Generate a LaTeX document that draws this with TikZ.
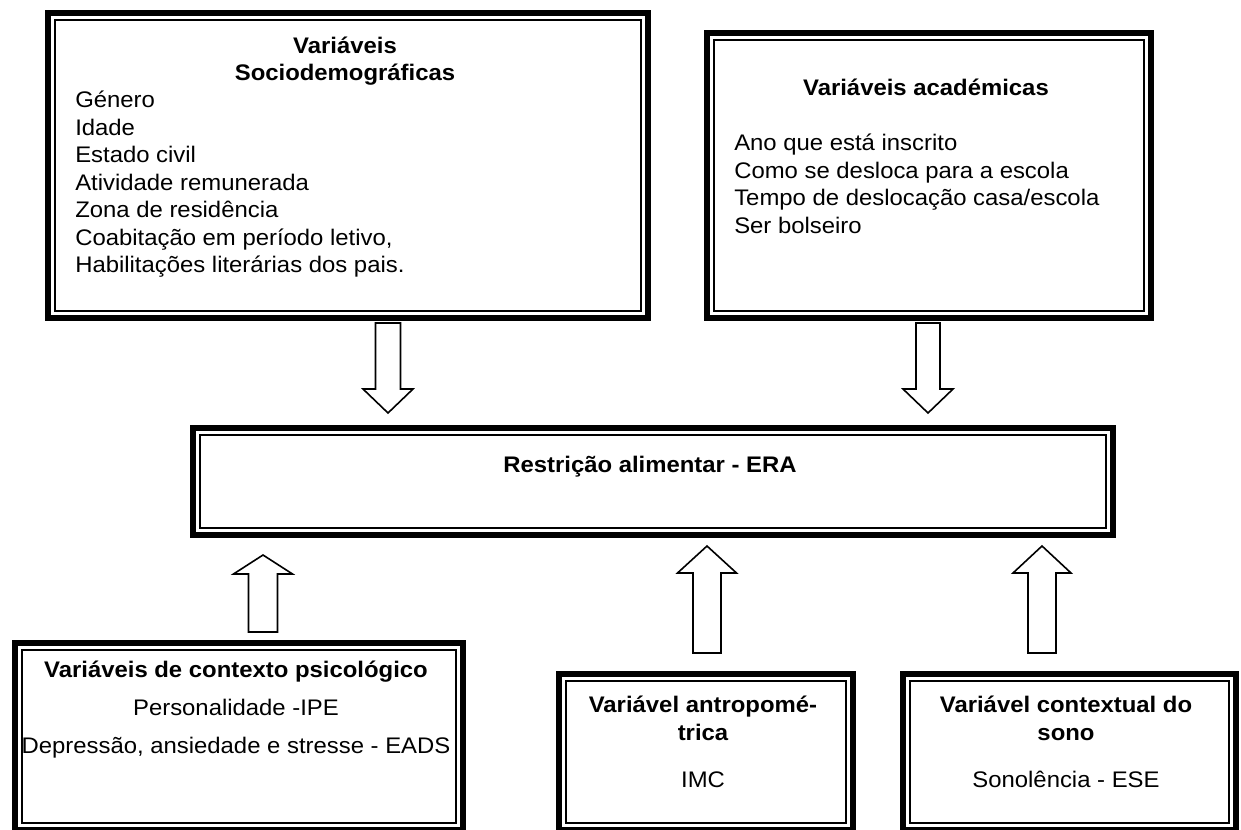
\documentclass[tikz,border=0pt]{standalone}
\usepackage{fontspec}
\setmainfont[FakeStretch=1.06]{Liberation Sans}

\begin{document}
\begin{tikzpicture}
[x=0.75pt,y=-0.75pt,
  boxDecorate/.style={draw,line width=4.5pt,inner sep=0pt,anchor=north west,
    path picture={\draw[line width=1.5pt]
      ([shift={(4.9pt,-4.9pt)}]path picture bounding box.north west) rectangle
      ([shift={(-4.9pt,4.9pt)}]path picture bounding box.south east);}},%
  arrowDecorate/.style={draw,line width=1.2pt,fill=white,line join=miter},%
  titleDecorate/.style={anchor=base,inner sep=0pt,font=\bfseries},%
  textDecorate/.style={anchor=base,inner sep=0pt},%
  listDecorate/.style={anchor=base west,inner sep=0pt}]
\fontsize{16.9pt}{20.6pt}\selectfont
\useasboundingbox (0,0) rectangle (1241,830);
%% boxes
\node[boxDecorate,minimum width=450pt,minimum height=228.75pt] (socio) at (45,10) {};
\node[boxDecorate,minimum width=333pt,minimum height=213.75pt] (acad) at (704,30) {};
\node[boxDecorate,minimum width=690pt,minimum height=80.25pt] (era) at (190,425) {};
\node[boxDecorate,minimum width=336pt,minimum height=140.25pt] (psico) at (12,640) {};
\node[boxDecorate,minimum width=220.5pt,minimum height=117pt] (antro) at (556,671) {};
\node[boxDecorate,minimum width=249.75pt,minimum height=117pt] (sono) at (900,671) {};
%% block arrows
\foreach \x/\ya/\yb/\yc/\s/\h in {
  388/323/389/413/12.5/25, 928/323/389/413/12/25,
  263/632/574/555/14.5/29.5, 707/653/573/546/14/29.5, 1042/653/573/546/14/29}
{
  \draw[arrowDecorate] (\x-\s,\ya) -- (\x-\s,\yb) -- (\x-\h,\yb) -- (\x,\yc)
    -- (\x+\h,\yb) -- (\x+\s,\yb) -- (\x+\s,\ya) -- cycle;
}
%% texts
\node[titleDecorate] (socioT1) at (345,54) {Variáveis};
\node[titleDecorate] (socioT2) at (345,81) {Sociodemográficas};
\foreach \item [count=\i] in {Género, Idade, Estado civil, Atividade remunerada,
  Zona de residência, {Coabitação em período letivo,}, Habilitações literárias dos pais.}
{
  \node[listDecorate] (socio\i) at (75,80.5+27.5*\i) {\item};
}
\node[titleDecorate] (acadT) at (926,96) {Variáveis académicas};
\foreach \item [count=\i] in {Ano que está inscrito, Como se desloca para a escola,
  Tempo de deslocação casa/escola, Ser bolseiro}
{
  \node[listDecorate] (acad\i) at (734,123.5+27.5*\i) {\item};
}
\node[titleDecorate] (eraT) at (650,472) {Restrição alimentar - ERA};
\node[titleDecorate] (psicoT) at (236,677) {Variáveis de contexto psicológico};
\node[textDecorate] (psico1) at (236,715) {Personalidade -IPE};
\node[textDecorate] (psico2) at (236,753) {Depressão, ansiedade e stresse - EADS};
\node[titleDecorate] (antroT1) at (703,712) {Variável antropomé-};
\node[titleDecorate] (antroT2) at (703,740) {trica};
\node[textDecorate] (antro1) at (703,787) {IMC};
\node[titleDecorate] (sonoT1) at (1066,712) {Variável contextual do};
\node[titleDecorate] (sonoT2) at (1066,740) {sono};
\node[textDecorate] (sono1) at (1066,787) {Sonolência - ESE};
\end{tikzpicture}
\end{document}
